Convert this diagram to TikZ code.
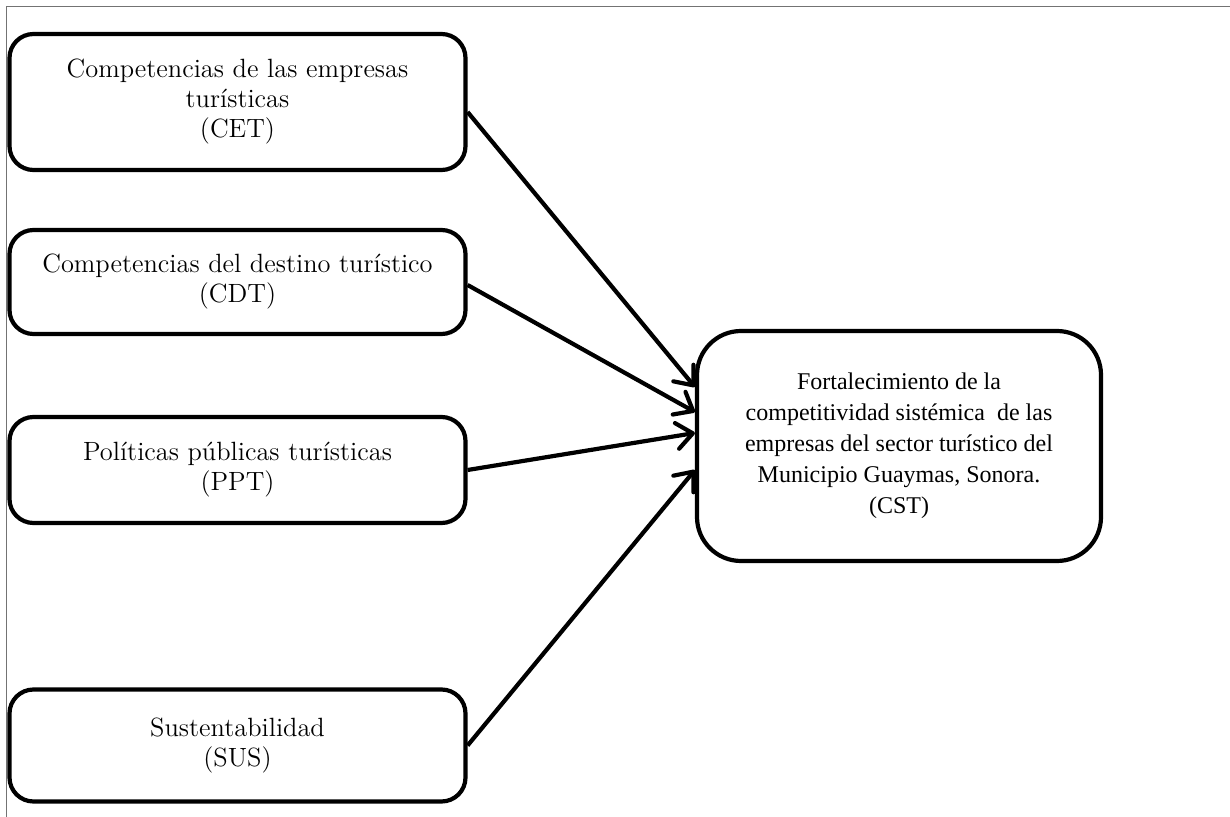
\documentclass[tikz,border=0pt]{standalone}
\usepackage{fontspec}
\usepackage{tikz}
\usetikzlibrary{arrows.meta,calc}
\newfontfamily\timesfont{Liberation Serif}

\tikzset{
  factor/.style={draw, line width=2.1pt, rounded corners=12pt, align=center,
    minimum width=228pt, font=\fontsize{13.2}{15}\selectfont},
  result/.style={draw, line width=2.1pt, rounded corners=22pt, align=center,
    minimum width=202pt, minimum height=115pt, font=\timesfont\fontsize{12}{15.5}\selectfont},
  link/.style={line width=2.1pt, -{Straight Barb[length=8pt,width=13pt,round]}}
}

\begin{document}
\begin{tikzpicture}[x=0.5pt,y=-0.5pt]
  \useasboundingbox (0,0) rectangle (1230,817);
  % page frame
  \draw[black!55, line width=0.8pt] (6.5,817) -- (6.5,6.5) -- (1230,6.5);

  \node[factor, minimum height=68pt] (cet) at (237.5,102) {Competencias de las empresas\\ turísticas\\ (CET)};
  \node[factor, minimum height=52pt] (cdt) at (237.5,282) {Competencias del destino turístico\\ (CDT)};
  \node[factor, minimum height=53pt] (ppt) at (237.5,470) {Políticas públicas turísticas\\ (PPT)};
  \node[factor, minimum height=56pt] (sus) at (237.5,745.5) {Sustentabilidad\\ (SUS)};

  \node[result] (cst) at (899,446) {Fortalecimiento de la\\ competitividad sistémica~ de las\\ empresas del sector turístico del\\ Municipio Guaymas, Sonora.\\ (CST)};

  \draw[link] ($(cet.east)+(0,10)$) -- ($(cst.west)+(0,-59)$);
  \draw[link] ($(cdt.east)+(0,3)$) -- ($(cst.west)+(0,-34)$);
  \draw[link] (ppt.east) -- ($(cst.west)+(0,-13)$);
  \draw[link] (sus.east) -- ($(cst.west)+(0,24)$);
\end{tikzpicture}
\end{document}
